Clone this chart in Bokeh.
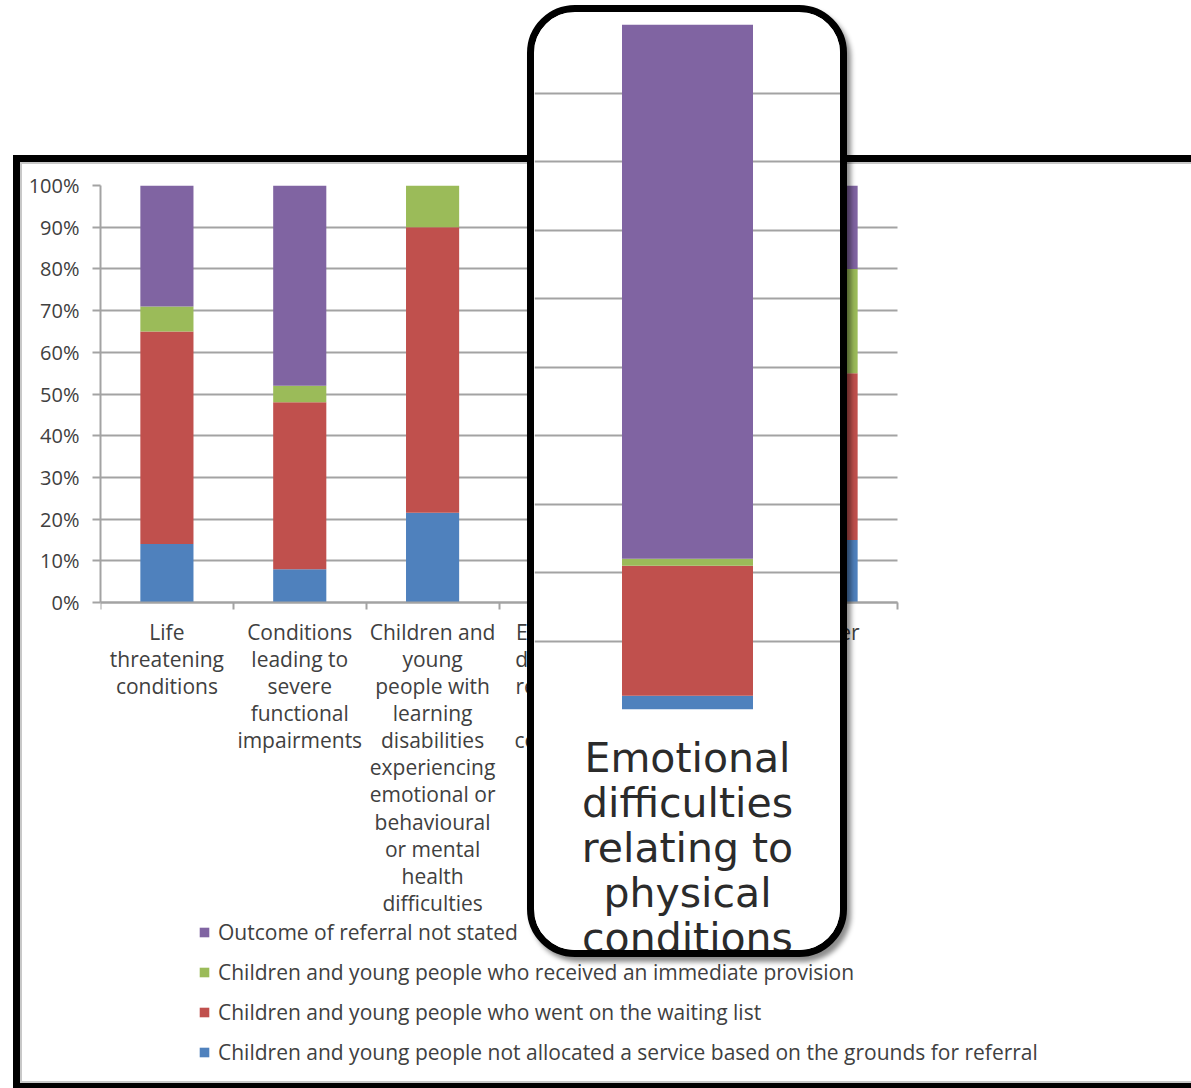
from bokeh.plotting import figure
from bokeh.models import (ColumnDataSource, Range1d, FixedTicker, LinearAxis, Legend,
                          LegendItem, PrintfTickFormatter, GridBox, Grid)
from bokeh.embed import file_html
from bokeh.resources import INLINE

# ---- data -------------------------------------------------------------
categories = [
    "Life\nthreatening\nconditions",
    "Conditions\nleading to\nsevere\nfunctional\nimpairments",
    "Children and\nyoung\npeople with\nlearning\ndisabilities\nexperiencing\nemotional or\nbehavioural\nor mental\nhealth\ndifficulties",
    "Emotional\ndifficulties\nrelating to\nphysical\nconditions",
    "",
    "Other",
]
not_allocated = [14, 8, 21.5, 2, 0, 15]
waiting_list = [51, 40, 68.5, 19, 0, 40]
immediate_provision = [6, 4, 10, 1, 0, 25]
not_stated = [29, 48, 0, 78, 0, 20]

series_keys = ["not_allocated", "waiting_list", "immediate_provision", "not_stated"]
series_labels = [
    "Children and young people not allocated a service based on the grounds for referral",
    "Children and young people who went on the waiting list",
    "Children and young people who received an immediate provision",
    "Outcome of referral not stated",
]
colors = ["#4F81BD", "#C0504D", "#9BBB59", "#8064A2"]
y_ticks = list(range(0, 101, 10))
magnified_index = 3  # category shown in the enlarged inset

# ---- styling ----------------------------------------------------------
FONT = "Open Sans"
TEXT = "#404040"
GRID = "#a3a3a3"
BAR_WIDTH = 0.4

# the frame is larger than the axes so that the legend below fits inside it
AXES_W, AXES_H = 797, 417        # pixel extent of the 0-100% column area
FRAME_W, FRAME_H = 1085, 895     # pixel extent of the whole drawing frame
n_cat = len(categories)
x_lo, x_hi = -0.5, n_cat - 0.5

idx = list(range(n_cat))
source = ColumnDataSource(dict(
    x=idx,
    not_allocated=not_allocated,
    waiting_list=waiting_list,
    immediate_provision=immediate_provision,
    not_stated=not_stated,
))

# ---- main stacked column chart ------------------------------------------
main = figure(
    width=1178, height=933,
    x_range=Range1d(x_lo, x_lo + n_cat * FRAME_W / AXES_W),
    y_range=Range1d(-100 * (FRAME_H - AXES_H) / AXES_H, 100),
    output_backend="svg", toolbar_location=None,
    min_border_left=80, min_border_right=13, min_border_top=23, min_border_bottom=15,
    background_fill_color=None, border_fill_color=None, outline_line_color=None,
    styles={
        "border-style": "solid",
        "border-color": "#000000",
        "border-width": "7px 0px 5px 7px",
        "background-color": "#ffffff",
        "box-shadow": "inset 2px 2px 0 0 #c8c8c8, inset 0 -2px 0 0 #c8c8c8",
        "overflow": "hidden",
    },
)

bars = main.vbar_stack(series_keys, x="x", width=BAR_WIDTH, color=colors,
                       line_color=None, source=source)

y_ticker = FixedTicker(ticks=y_ticks)

main.xgrid.visible = False
ygrid = main.ygrid[0]
ygrid.ticker = y_ticker
if "cross_bounds" in ygrid.properties():
    ygrid.cross_bounds = (x_lo, x_hi)
    ygrid.grid_line_color = GRID
    ygrid.grid_line_width = 2
else:
    ygrid.visible = False
    main.segment(x0=x_lo, x1=x_hi, y0=y_ticks, y1=y_ticks,
                 line_color=GRID, line_width=2, level="underlay")

yax = main.yaxis[0]
yax.ticker = y_ticker
yax.bounds = (0, 100)
yax.formatter = PrintfTickFormatter(format="%d%%")
yax.axis_line_color = GRID
yax.axis_line_width = 2
yax.major_tick_line_color = GRID
yax.major_tick_line_width = 2
yax.major_tick_out = 8
yax.major_tick_in = 0
yax.minor_tick_line_color = None
yax.major_label_standoff = 13
yax.major_label_text_font = FONT
yax.major_label_text_font_size = "20px"
yax.major_label_text_color = TEXT

xax = main.xaxis[0]
xax.fixed_location = 0
xax.bounds = (x_lo, x_hi)
xax.ticker = FixedTicker(ticks=idx, minor_ticks=[i - 0.5 for i in range(n_cat + 1)])
xax.major_label_overrides = {i: c for i, c in zip(idx, categories)}
xax.axis_line_color = GRID
xax.axis_line_width = 2
xax.major_tick_line_color = None
xax.major_tick_out = 0
xax.major_tick_in = 0
xax.minor_tick_line_color = GRID
xax.minor_tick_line_width = 2
xax.minor_tick_out = 7
xax.minor_tick_in = 0
xax.major_label_standoff = 8
xax.major_label_text_font = FONT
xax.major_label_text_font_size = "21px"
xax.major_label_text_color = TEXT
xax.major_label_text_line_height = 0.97

legend = Legend(
    items=[LegendItem(label=lab, renderers=[r])
           for lab, r in reversed(list(zip(series_labels, bars)))],
    location=(98, 14),
    orientation="vertical",
    glyph_width=12, glyph_height=12,
    label_height=20, spacing=12, padding=0, margin=0,
    label_standoff=8,
    label_text_font=FONT, label_text_font_size="21px", label_text_color=TEXT,
    border_line_color=None, background_fill_color=None,
)
main.add_layout(legend, "center")

# ---- enlarged inset of one column ----------------------------------------
inset_w, inset_h = 320, 952
inset_border = 7
inset_bar_px = 131
visible_w = inset_w - 2 * inset_border
half_span = visible_w * BAR_WIDTH / inset_bar_px / 2

inset_source = ColumnDataSource(dict(
    x=[magnified_index],
    not_allocated=[not_allocated[magnified_index]],
    waiting_list=[waiting_list[magnified_index]],
    immediate_provision=[immediate_provision[magnified_index]],
    not_stated=[not_stated[magnified_index]],
))

inset = figure(
    width=inset_w, height=inset_h,
    x_range=Range1d(magnified_index - half_span, magnified_index + half_span),
    y_range=Range1d(0, 100),
    output_backend="svg", toolbar_location=None,
    x_axis_type=None, y_axis_type=None,
    min_border_left=0, min_border_right=2 * inset_border,
    min_border_top=12, min_border_bottom=255,
    background_fill_color="#ffffff", border_fill_color="#ffffff", outline_line_color=None,
    styles={
        "border": f"{inset_border}px solid #000000",
        "border-radius": "48px",
        "box-shadow": "4px 5px 5px rgba(0,0,0,0.45)",
        "background-color": "#ffffff",
        "overflow": "hidden",
    },
)
inset.add_layout(Grid(dimension=1, ticker=FixedTicker(ticks=y_ticks),
                      grid_line_color=GRID, grid_line_width=2))
inset.vbar_stack(series_keys, x="x", width=BAR_WIDTH, color=colors,
                 line_color=None, source=inset_source)

inset_axis = LinearAxis(
    ticker=FixedTicker(ticks=[magnified_index]),
    major_label_overrides={magnified_index: categories[magnified_index]},
    axis_line_color=None, major_tick_line_color=None, minor_tick_line_color=None,
    major_label_standoff=18,
    major_label_text_font="DejaVu Sans", major_label_text_font_size="41px",
    major_label_text_color="#2b2b2b", major_label_text_line_height=0.94,
)
inset.add_layout(inset_axis, "below")

# ---- page: inset overlapping the framed chart ----------------------------
page = GridBox(
    children=[(main, 2, 1, 2, 3), (inset, 1, 2, 2, 1)],
    rows=["5px", "150px", "802px", "131px"],
    cols=["13px", "514px", "320px", "344px"],
    spacing=0,
)

open("out.html", "w").write(file_html(page, INLINE))
